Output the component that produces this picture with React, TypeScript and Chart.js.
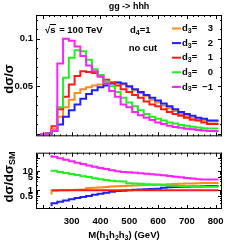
import React, { useEffect, useRef } from "react";
import { Chart, registerables } from "chart.js";
Chart.register(...registerables);

// ---------------- data ----------------
const binEdges = [190, 210, 230, 250, 270, 290, 310, 330, 350, 370, 390, 410, 430, 450, 470, 490, 510, 530, 550, 570, 590, 610, 630, 650, 670, 690, 710, 730, 750, 770, 790];
const ratioEdges = [230, 250, 270, 290, 310, 330, 350, 370, 390, 410, 430, 450, 470, 490, 510, 530, 550, 570, 590, 610, 630, 650, 670, 690, 710, 730, 750, 770, 790];
const lastEdge = 810;

const seriesLabels = ["3", "2", "1", "0", "\u22121"];

// d sigma / sigma (fraction per 20 GeV bin)
const histD3p3 = [0, 0, 0.0005, 0.005, 0.018, 0.028, 0.036, 0.043, 0.047, 0.049, 0.051, 0.052, 0.053, 0.054, 0.054, 0.052, 0.049, 0.046, 0.043, 0.040, 0.036, 0.033, 0.030, 0.027, 0.024, 0.021, 0.019, 0.017, 0.015, 0.014, 0.013];
const histD3p2 = [0, 0, 0.0003, 0.003, 0.010, 0.018, 0.025, 0.031, 0.037, 0.042, 0.046, 0.049, 0.051, 0.053, 0.054, 0.053, 0.050, 0.047, 0.044, 0.041, 0.038, 0.035, 0.032, 0.029, 0.026, 0.023, 0.021, 0.019, 0.017, 0.016, 0.014];
const histD3p1 = [0, 0, 0.001, 0.008, 0.026, 0.039, 0.052, 0.061, 0.066, 0.065, 0.064, 0.062, 0.057, 0.054, 0.051, 0.047, 0.044, 0.041, 0.038, 0.034, 0.031, 0.029, 0.026, 0.023, 0.021, 0.019, 0.017, 0.015, 0.014, 0.012, 0.0105];
const histD3z0 = [0, 0, 0.0005, 0.004, 0.028, 0.059, 0.080, 0.088, 0.087, 0.078, 0.068, 0.062, 0.055, 0.050, 0.044, 0.038, 0.033, 0.029, 0.025, 0.021, 0.018, 0.016, 0.014, 0.012, 0.011, 0.0095, 0.0085, 0.0075, 0.0068, 0.006, 0.0056];
const histD3m1 = [0, 0, 0.0005, 0.003, 0.074, 0.100, 0.098, 0.092, 0.082, 0.072, 0.066, 0.060, 0.053, 0.045, 0.039, 0.031, 0.028, 0.023, 0.0195, 0.017, 0.0146, 0.012, 0.0104, 0.0087, 0.0074, 0.0064, 0.0054, 0.0048, 0.0041, 0.0036, 0.003];

// d sigma / d sigma_SM
const ratioD3p3 = [0.6, 0.95, 1.0, 1.0, 1.02, 1.05, 1.1, 1.3, 1.35, 1.4, 1.5, 1.6, 1.65, 1.7, 1.75, 1.8, 1.85, 1.9, 1.95, 2.0, 2.05, 2.1, 2.15, 2.2, 2.25, 2.3, 2.35, 2.4, 2.4];
const ratioD3p2 = [0.14, 0.2, 0.24, 0.28, 0.33, 0.38, 0.44, 0.5, 0.57, 0.65, 0.73, 0.82, 0.9, 0.95, 1.0, 1.05, 1.1, 1.12, 1.15, 1.2, 1.35, 1.45, 1.5, 1.52, 1.55, 1.58, 1.6, 1.63, 1.7];
const ratioD3p1 = [1, 1, 1, 1, 1, 1, 1, 1, 1, 1, 1, 1, 1, 1, 1, 1, 1, 1, 1, 1, 1, 1, 1, 1, 1, 1, 1, 1, 1];
const ratioD3z0 = [12.5, 11, 9.5, 8.3, 7.3, 6.4, 5.6, 5.0, 4.4, 3.9, 3.5, 3.2, 3.0, 2.9, 2.35, 2.25, 2.2, 2.1, 2.0, 1.95, 1.9, 1.8, 1.75, 1.7, 1.65, 1.6, 1.57, 1.55, 1.53];
const ratioD3m1 = [75, 60, 50, 42, 35, 29, 25, 21, 18, 15.5, 13.5, 11.5, 10.3, 9.5, 9, 8.5, 8, 7.5, 7.1, 6.7, 6.3, 5.8, 5.3, 4.9, 4.5, 4.2, 3.9, 3.7, 3.7];

const xTickValues = [300, 400, 500, 600, 700, 800];
const topYTickValues = [0.05, 0.1];
const ratioTickValues = [0.5, 1, 5, 10];

// ---------------- style ----------------
const FONT = '"Liberation Sans", Arial, sans-serif';
const COLORS = ["#ff8c1a", "#2020ff", "#ff1a1a", "#22ee22", "#ff22ff"];
const X_MIN = 176;
const X_MAX = 822;

type Part = { t: string; sub?: boolean };

function richWidth(ctx: CanvasRenderingContext2D, parts: Part[], size: number) {
  let w = 0;
  for (const p of parts) {
    ctx.font = `bold ${p.sub ? Math.round(size * 0.72) : size}px ${FONT}`;
    w += ctx.measureText(p.t).width;
  }
  return w;
}

function richText(ctx: CanvasRenderingContext2D, parts: Part[], x: number, y: number, size: number, align: "left" | "center" | "right") {
  const total = richWidth(ctx, parts, size);
  let cx = align === "center" ? x - total / 2 : align === "right" ? x - total : x;
  ctx.textAlign = "left";
  ctx.textBaseline = "middle";
  for (const p of parts) {
    ctx.font = `bold ${p.sub ? Math.round(size * 0.72) : size}px ${FONT}`;
    ctx.fillText(p.t, cx, p.sub ? y + size * 0.28 : y);
    cx += ctx.measureText(p.t).width;
  }
}

function drawXTicks(ctx: CanvasRenderingContext2D, chart: any) {
  const a = chart.chartArea;
  const xs = chart.scales.x;
  for (let v = 200; v <= 820; v += 20) {
    const px = Math.round(xs.getPixelForValue(v)) + 0.5;
    const len = v % 100 === 0 ? 4 : 2;
    ctx.moveTo(px, a.bottom);
    ctx.lineTo(px, a.bottom - len);
    ctx.moveTo(px, a.top);
    ctx.lineTo(px, a.top + len);
  }
}

function drawFrame(ctx: CanvasRenderingContext2D, a: any) {
  ctx.strokeStyle = "#000";
  ctx.lineWidth = 1;
  ctx.strokeRect(a.left + 0.5, a.top + 0.5, a.right - a.left - 1, a.bottom - a.top - 1);
}

const topDecor = {
  id: "topDecor",
  afterDraw(chart: any) {
    const ctx: CanvasRenderingContext2D = chart.ctx;
    const a = chart.chartArea;
    const ys = chart.scales.y;
    ctx.save();
    drawFrame(ctx, a);
    ctx.beginPath();
    drawXTicks(ctx, chart);
    for (let k = 0; k <= 12; k++) {
      const py = Math.round(ys.getPixelForValue(k * 0.01)) + 0.5;
      const len = k % 5 === 0 ? 4 : 2;
      ctx.moveTo(a.left, py);
      ctx.lineTo(a.left + len, py);
      ctx.moveTo(a.right, py);
      ctx.lineTo(a.right - len, py);
    }
    ctx.stroke();

    ctx.fillStyle = "#000";
    // title
    richText(ctx, [{ t: "gg -> hhh" }], 129, 7, 9, "center");
    // sqrt(s) = 100 TeV
    const sz = 9.5;
    ctx.font = `bold ${sz}px ${FONT}`;
    ctx.textAlign = "left";
    ctx.textBaseline = "middle";
    const x0 = 45;
    const yy = 30;
    ctx.fillText("\u221A", x0, yy);
    const wr = ctx.measureText("\u221A").width;
    ctx.fillText("s", x0 + wr, yy);
    const wsx = ctx.measureText("s").width;
    ctx.beginPath();
    ctx.lineWidth = 1;
    ctx.moveTo(x0 + wr - 0.5, yy - 5.5);
    ctx.lineTo(x0 + wr + wsx + 0.5, yy - 5.5);
    ctx.stroke();
    ctx.fillText(" = 100 TeV", x0 + wr + wsx + 1, yy);
    // d4 = 1
    richText(ctx, [{ t: "d" }, { t: "4", sub: true }, { t: "=1" }], 130, 30, 9.5, "left");
    richText(ctx, [{ t: "no cut" }], 143, 48, 9.5, "center");
    // legend
    for (let i = 0; i < seriesLabels.length; i++) {
      const ly = 28.5 + 14.6 * i;
      ctx.beginPath();
      ctx.strokeStyle = COLORS[i];
      ctx.lineWidth = 2;
      ctx.moveTo(172, ly);
      ctx.lineTo(181, ly);
      ctx.stroke();
      ctx.fillStyle = "#000";
      richText(ctx, [{ t: "d" }, { t: "3", sub: true }, { t: "=" }], 182, ly, 9.5, "left");
      richText(ctx, [{ t: seriesLabels[i] }], 213, ly, 9.5, "right");
    }
    // y title
    ctx.save();
    ctx.translate(9, 79);
    ctx.rotate(-Math.PI / 2);
    ctx.fillStyle = "#000";
    richText(ctx, [{ t: "d\u03C3/\u03C3" }], 0, 0, 13, "center");
    ctx.restore();
    ctx.restore();
  },
};

const bottomDecor = {
  id: "bottomDecor",
  afterDraw(chart: any) {
    const ctx: CanvasRenderingContext2D = chart.ctx;
    const a = chart.chartArea;
    const ys = chart.scales.y;
    ctx.save();
    drawFrame(ctx, a);
    ctx.beginPath();
    drawXTicks(ctx, chart);
    for (let dec = 0.1; dec < 100; dec *= 10) {
      for (let m = 1; m <= 9; m++) {
        const v = dec * m;
        if (v <= 0.1 || v >= 100) continue;
        const py = Math.round(ys.getPixelForValue(v)) + 0.5;
        const major = m === 1 || m === 5;
        const len = major ? 4 : 2;
        ctx.moveTo(a.left, py);
        ctx.lineTo(a.left + len, py);
        ctx.moveTo(a.right, py);
        ctx.lineTo(a.right - len, py);
      }
    }
    ctx.stroke();
    ctx.fillStyle = "#000";
    // y title
    ctx.save();
    ctx.translate(9, 177 - 144);
    ctx.rotate(-Math.PI / 2);
    richText(ctx, [{ t: "d\u03C3/d\u03C3" }, { t: "SM", sub: true }], 0, 0, 13, "center");
    ctx.restore();
    // x title
    richText(
      ctx,
      [{ t: "M(h" }, { t: "1", sub: true }, { t: "h" }, { t: "2", sub: true }, { t: "h" }, { t: "3", sub: true }, { t: ") (GeV)" }],
      124,
      235 - 144,
      9.5,
      "center"
    );
    ctx.restore();
  },
};

function stepPoints(edges: number[], vals: number[]) {
  const pts = edges.map((x, i) => ({ x, y: vals[i] }));
  pts.push({ x: lastEdge, y: vals[vals.length - 1] });
  return pts;
}

const tickFont = { family: FONT, size: 9.5, weight: "bold" as const };

export default function App() {
  const topRef = useRef<HTMLCanvasElement>(null);
  const botRef = useRef<HTMLCanvasElement>(null);

  useEffect(() => {
    const hist = [histD3p3, histD3p2, histD3p1, histD3z0, histD3m1];
    const ratio = [ratioD3p3, ratioD3p2, ratioD3p1, ratioD3z0, ratioD3m1];

    const top = new Chart(topRef.current!, {
      type: "line",
      data: {
        datasets: hist.map((h, i) => ({
          label: seriesLabels[i],
          data: stepPoints(binEdges, h),
          borderColor: COLORS[i],
          borderWidth: 2,
          pointRadius: 0,
          stepped: "after" as const,
          fill: false,
          order: 4 - i,
        })),
      },
      options: {
        animation: false,
        responsive: false,
        maintainAspectRatio: false,
        layout: { padding: { left: 0, right: 19, top: 15, bottom: 1 } },
        plugins: { legend: { display: false }, tooltip: { enabled: false } },
        scales: {
          x: { type: "linear", min: X_MIN, max: X_MAX, display: false },
          y: {
            type: "linear",
            min: -0.0025,
            max: 0.125,
            grid: { display: false, drawTicks: false },
            border: { display: false },
            ticks: { font: tickFont, color: "#000", padding: 3, autoSkip: false, callback: (v: any) => String(v) },
            afterBuildTicks: (s: any) => {
              s.ticks = topYTickValues.map((v) => ({ value: v }));
            },
            afterFit: (s: any) => {
              s.width = 36;
            },
          },
        },
      },
      plugins: [topDecor],
    } as any);

    const bot = new Chart(botRef.current!, {
      type: "line",
      data: {
        datasets: ratio.map((r, i) => ({
          label: seriesLabels[i],
          data: stepPoints(ratioEdges, r),
          borderColor: COLORS[i],
          borderWidth: 2,
          pointRadius: 0,
          stepped: "after" as const,
          fill: false,
          order: 4 - i,
        })),
      },
      options: {
        animation: false,
        responsive: false,
        maintainAspectRatio: false,
        layout: { padding: { left: 0, right: 19, top: 0, bottom: 0 } },
        plugins: { legend: { display: false }, tooltip: { enabled: false } },
        scales: {
          x: {
            type: "linear",
            min: X_MIN,
            max: X_MAX,
            grid: { display: false, drawTicks: false },
            border: { display: false },
            ticks: { font: tickFont, color: "#000", padding: 7, autoSkip: false, maxRotation: 0, callback: (v: any) => String(v) },
            afterBuildTicks: (s: any) => {
              s.ticks = xTickValues.map((v) => ({ value: v }));
            },
            afterFit: (s: any) => {
              s.height = 32;
            },
          },
          y: {
            type: "logarithmic",
            min: 0.1,
            max: 100,
            grid: { display: false, drawTicks: false },
            border: { display: false },
            ticks: { font: tickFont, color: "#000", padding: 3, autoSkip: false, callback: (v: any) => String(v) },
            afterBuildTicks: (s: any) => {
              s.ticks = ratioTickValues.map((v) => ({ value: v }));
            },
            afterFit: (s: any) => {
              s.width = 36;
            },
          },
        },
      },
      plugins: [bottomDecor],
    } as any);

    return () => {
      top.destroy();
      bot.destroy();
    };
  }, []);

  return (
    <div style={{ position: "fixed", left: 0, top: 0, width: 241, height: 241, background: "#fff" }}>
      <canvas ref={topRef} width={241} height={145} style={{ position: "absolute", left: 0, top: 0, width: 241, height: 145 }} />
      <canvas ref={botRef} width={241} height={97} style={{ position: "absolute", left: 0, top: 144, width: 241, height: 97 }} />
    </div>
  );
}
